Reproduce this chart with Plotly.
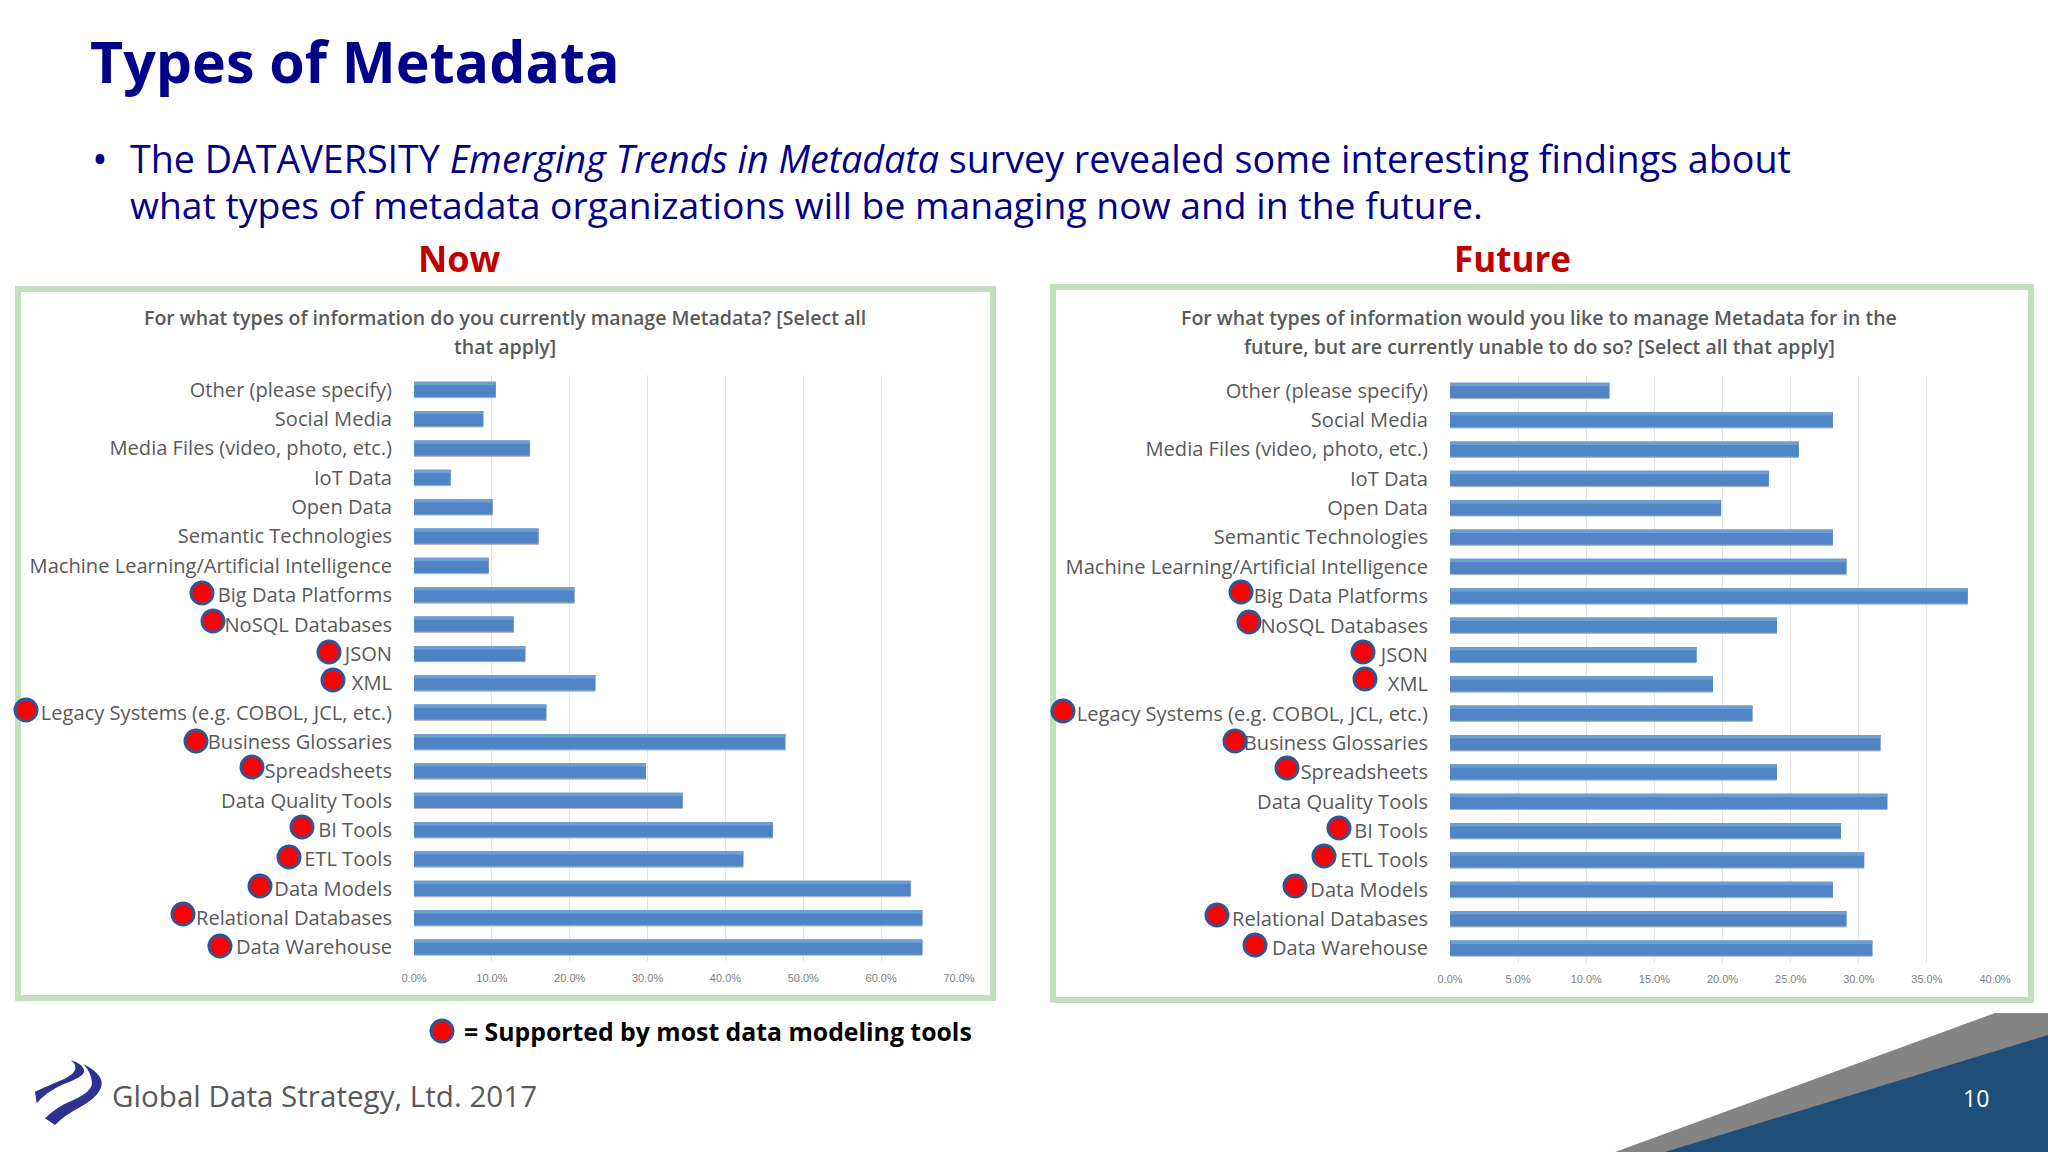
import plotly.graph_objects as go

W, H = 2048, 1152

categories = ['Other (please specify)', 'Social Media', 'Media Files (video, photo, etc.)', 'IoT Data',
              'Open Data', 'Semantic Technologies', 'Machine Learning/Artificial Intelligence',
              'Big Data Platforms', 'NoSQL Databases', 'JSON', 'XML', 'Legacy Systems (e.g. COBOL, JCL, etc.)',
              'Business Glossaries', 'Spreadsheets', 'Data Quality Tools', 'BI Tools', 'ETL Tools',
              'Data Models', 'Relational Databases', 'Data Warehouse']

now_values = [10.5, 8.9, 14.9, 4.7, 10.1, 16.0, 9.6, 20.6, 12.8, 14.3, 23.3, 17.0,
              47.7, 29.8, 34.5, 46.1, 42.3, 63.8, 65.3, 65.3]
future_values = [11.7, 28.1, 25.6, 23.4, 19.9, 28.1, 29.1, 38.0, 24.0, 18.1, 19.3, 22.2,
                 31.6, 24.0, 32.1, 28.7, 30.4, 28.1, 29.1, 31.0]

now_ticks = [0, 10, 20, 30, 40, 50, 60, 70]
future_ticks = [0, 5, 10, 15, 20, 25, 30, 35, 40]

# red dots beside the labels, in page pixels
dots_now_x = [202, 213, 329, 333, 26, 196, 252, 302, 289, 260, 183, 220]
dots_now_y = [593, 621, 652, 680, 710, 741, 767, 827, 857, 886, 914, 946]
dots_future_x = [1241, 1249, 1363, 1365, 1063, 1235, 1287, 1339, 1324, 1295, 1217, 1255]
dots_future_y = [592, 622, 652, 679, 711, 741, 768, 828, 856, 886, 915, 945]
dot_key_x = [442]
dot_key_y = [1031]

NAVY = '#00008B'
GREY = '#595959'
BAR = '#4F85C5'
FONT = 'Open Sans'


def px(x):
    return x / W


def py(y):
    return 1 - y / H


def txt(x, y, s, size, color, anchor='left', bold=False, weight=None):
    if bold:
        s = '<b>' + s + '</b>'
    font = dict(family=FONT, size=size, color=color)
    if weight:
        font['weight'] = weight
    return dict(x=px(x), y=py(y), xref='paper', yref='paper', text=s, showarrow=False,
                xanchor=anchor, yanchor='middle', align=anchor, font=font)


fig = go.Figure()

# shadow, body and lighter top of each bar
for xa, ya, vals in [('x', 'y', now_values), ('x2', 'y2', future_values)]:
    fig.add_trace(go.Bar(y=categories, x=vals, orientation='h', xaxis=xa, yaxis=ya,
                         width=0.54, offset=-0.25, marker=dict(color='#AEB4BD', line_width=0)))
    fig.add_trace(go.Bar(y=categories, x=vals, orientation='h', xaxis=xa, yaxis=ya,
                         width=0.52, offset=-0.27, marker=dict(color=BAR, line_width=0)))
    fig.add_trace(go.Bar(y=categories, x=vals, orientation='h', xaxis=xa, yaxis=ya,
                         width=0.12, offset=-0.27, marker=dict(color='#6E9CD3', line_width=0)))

for xs, ys in [(dots_now_x, dots_now_y), (dots_future_x, dots_future_y), (dot_key_x, dot_key_y)]:
    fig.add_trace(go.Scatter(x=xs, y=ys, xaxis='x3', yaxis='y3', mode='markers',
                             marker=dict(size=22, color='#FF0000', line=dict(color='#2F5597', width=3))))

axis_common = dict(showgrid=True, gridcolor='#E4E4E4', gridwidth=1, zeroline=False, showline=False,
                   ticks='', ticklabelstandoff=8, tickfont=dict(family='Liberation Sans', size=11, color='#7F7F7F'))
cat_common = dict(autorange='reversed', showgrid=False, ticks='', ticklabelstandoff=21, showline=False,
                  tickfont=dict(family=FONT, size=20.1, color=GREY))


def logo_path(d):
    # d is in 3x crop units of the logo area
    parts = d.split()
    out = []
    for p in parts:
        if ',' in p:
            a, b = p.split(',')
            out.append(f'{px(20 + float(a) / 3)},{py(1050 + float(b) / 3)}')
        else:
            out.append(p)
    return ' '.join(out)


swoosh_a = 'M 152,30 Q 195,45 192,65 Q 190,80 130,103 Q 80,125 50,160 L 45,125 Q 90,105 125,90 Q 170,70 166,50 Q 165,40 152,30 Z'
swoosh_b = 'M 190,42 Q 245,70 245,100 Q 245,135 180,172 Q 135,195 105,225 L 75,205 Q 110,170 160,150 Q 216,125 216,100 Q 216,70 190,42 Z'

shapes = [
    dict(type='rect', xref='paper', yref='paper', x0=px(18), x1=px(993), y0=py(289), y1=py(998),
         line=dict(color='#C3E0BC', width=6), layer='below'),
    dict(type='rect', xref='paper', yref='paper', x0=px(1053), x1=px(2031), y0=py(287), y1=py(1000),
         line=dict(color='#C3E0BC', width=6), layer='below'),
    # corner wedges
    dict(type='path', xref='paper', yref='paper', fillcolor='#848484', line_width=0,
         path=f'M {px(1995)} {py(1013)} L 1 {py(1013)} L 1 0 L {px(1615)} 0 Z'),
    dict(type='path', xref='paper', yref='paper', fillcolor='#1F4E79', line_width=0,
         path=f'M {px(1665)} 0 L 1 {py(1035)} L 1 0 Z'),
    dict(type='path', xref='paper', yref='paper', fillcolor='#2E3192', line_width=0, path=logo_path(swoosh_a)),
    dict(type='path', xref='paper', yref='paper', fillcolor='#2E3192', line_width=0, path=logo_path(swoosh_b)),
]

annotations = [
    txt(87.5, 61, 'Types of Metadata', 57.3, NAVY, bold=True),
    txt(90, 157, '•', 42, NAVY),
    txt(128, 158, 'The DATAVERSITY <i>Emerging Trends in Metadata</i> survey revealed some interesting findings about', 37.65, NAVY),
    txt(128, 205, 'what types of metadata organizations will be managing now and in the future.', 37.3, NAVY),
    txt(459, 259, 'Now', 36, '#C00000', anchor='center', bold=True),
    txt(1512, 259, 'Future', 35, '#C00000', anchor='center', bold=True),
    txt(505, 317, 'For what types of information do you currently manage Metadata? [Select all', 19.55, GREY, anchor='center', weight=600),
    txt(505, 346, 'that apply]', 19.55, GREY, anchor='center', weight=600),
    txt(1539, 317, 'For what types of information would you like to manage Metadata for in the', 19.55, GREY, anchor='center', weight=600),
    txt(1539, 346, 'future, but are currently unable to do so? [Select all that apply]', 19.55, GREY, anchor='center', weight=600),
    txt(462, 1031, '= Supported by most data modeling tools', 24.8, '#000000', bold=True),
    txt(110, 1095, 'Global Data Strategy, Ltd. 2017', 29.6, GREY),
    txt(1976, 1098, '10', 23, '#FFFFFF', anchor='center'),
]

fig.update_layout(
    margin=dict(l=0, r=0, t=0, b=0, autoexpand=False), showlegend=False,
    paper_bgcolor='#FFFFFF', plot_bgcolor='rgba(0,0,0,0)', barmode='overlay',
    shapes=shapes, annotations=annotations,
    xaxis=dict(domain=[px(414), px(959)], range=[0, 70], tickvals=now_ticks,
               ticktext=[f'{t:.1f}%' for t in now_ticks], anchor='y', **axis_common),
    yaxis=dict(domain=[py(962), py(375)], anchor='x', **cat_common),
    xaxis2=dict(domain=[px(1450), px(1995)], range=[0, 40], tickvals=future_ticks,
                ticktext=[f'{t:.1f}%' for t in future_ticks], anchor='y2', **axis_common),
    yaxis2=dict(domain=[py(963), py(376)], anchor='x2', **cat_common),
    xaxis3=dict(domain=[0, 1], range=[0, W], visible=False, anchor='y3'),
    yaxis3=dict(domain=[0, 1], range=[H, 0], visible=False, anchor='x3'),
)

# full page, no body margin
fig.write_html('out.html', default_width=f'{W}px', default_height=f'{H}px',
               config={'displayModeBar': False},
               post_script="document.body.style.margin='0';document.documentElement.style.overflow='hidden';")
